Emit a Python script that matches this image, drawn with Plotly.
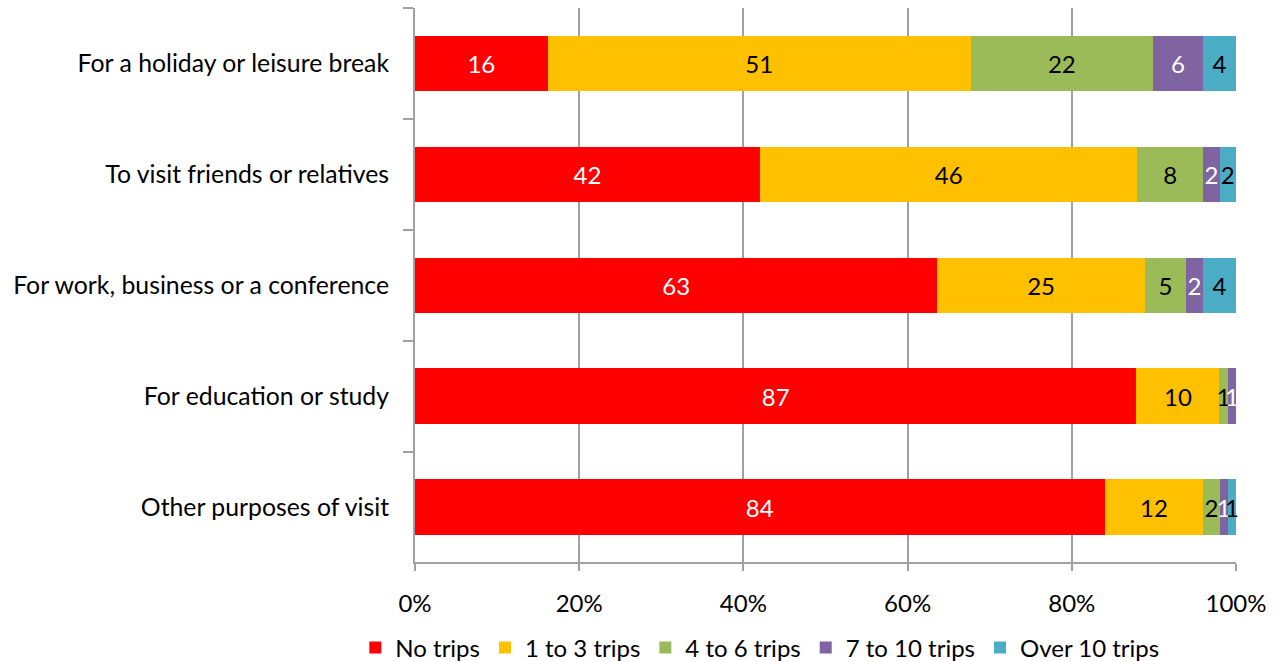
import plotly.graph_objects as go

categories = ["For a holiday or leisure break", "To visit friends or relatives",
              "For work, business or a conference", "For education or study",
              "Other purposes of visit"]
series_names = ["No trips", "1 to 3 trips", "4 to 6 trips", "7 to 10 trips", "Over 10 trips"]
no_trips = [16, 42, 63, 87, 84]
trips_1_3 = [51, 46, 25, 10, 12]
trips_4_6 = [22, 8, 5, 1, 2]
trips_7_10 = [6, 2, 2, 1, 1]
trips_over_10 = [4, 2, 4, 0, 1]
x_tick_vals = [0, 20, 40, 60, 80, 100]
x_tick_text = ["0%", "20%", "40%", "60%", "80%", "100%"]

colors = ["#FF0000", "#FFC000", "#9BBB59", "#8064A2", "#4BACC6"]
text_colors = ["white", "black", "black", "white", "black"]
all_series = [no_trips, trips_1_3, trips_4_6, trips_7_10, trips_over_10]

FONT = "Lato"
FS = 24
fig = go.Figure()
for name, vals, c, tc in zip(series_names, all_series, colors, text_colors):
    fig.add_trace(go.Bar(
        y=categories, x=vals, name=name, orientation="h",
        marker=dict(color=c, line=dict(width=0)),
        text=[str(v) if v > 0 else "" for v in vals],
        textposition="inside", insidetextanchor="middle",
        textfont=dict(color=tc, size=FS, family=FONT),
        constraintext="none", cliponaxis=False,
    ))

fig.update_layout(
    barmode="stack", barnorm="percent", bargap=0.5,
    width=1276, height=661,
    margin=dict(l=415, r=40, t=8, b=95),
    plot_bgcolor="white", paper_bgcolor="white",
    font=dict(family=FONT, size=FS, color="black"),
    uniformtext=dict(minsize=FS, mode="show"),
    xaxis=dict(range=[0, 100.0001], tickvals=x_tick_vals, ticktext=x_tick_text,
               showgrid=True, gridcolor="#A0A0A0", gridwidth=2,
               showline=True, linecolor="#A0A0A0", linewidth=2,
               ticks="outside", ticklen=7, tickcolor="#A0A0A0", tickwidth=2,
               ticklabelstandoff=12, zeroline=False,
               tickfont=dict(size=FS, family=FONT, color="black")),
    yaxis=dict(autorange="reversed", showline=True, linecolor="#A0A0A0", linewidth=2,
               ticks="outside", ticklen=10, tickcolor="#A0A0A0", tickwidth=2,
               tickson="boundaries", ticklabelstandoff=19, automargin=False,
               tickfont=dict(size=24.8, family=FONT, color="black")),
    legend=dict(orientation="h", x=0.42, xanchor="center", yref="container", y=0.02,
                yanchor="middle", font=dict(size=FS, family=FONT, color="black"),
                traceorder="normal"),
    showlegend=True,
)

fig.write_html("out.html", config={"displayModeBar": False},
               post_script="document.body.style.margin='0';document.body.style.overflow='hidden';")
